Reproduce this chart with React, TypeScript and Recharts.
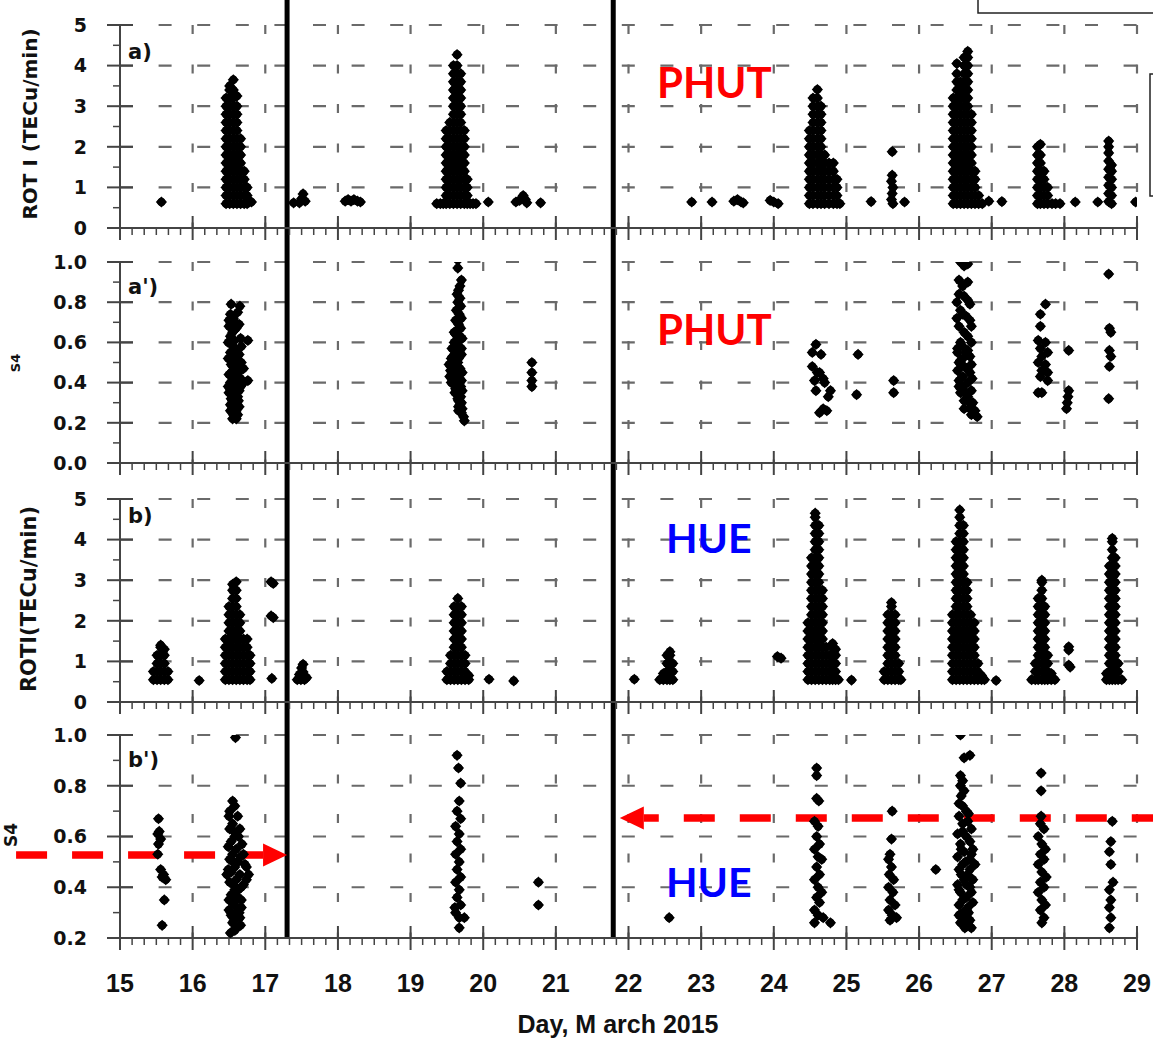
import React from "react";
import { ScatterChart, Scatter, XAxis, YAxis, CartesianGrid, ReferenceLine } from "recharts";

type Strand = [number, number[]];

const W = 1153;
const AXIS = "#444";
const GRID = "#6a6a6a";
const RED = "#ff0000";

// x axis
const days = [15, 16, 17, 18, 19, 20, 21, 22, 23, 24, 25, 26, 27, 28, 29];
const gridDays = [16, 17, 18, 19, 20, 21, 22, 23, 24, 25, 26, 27, 28, 29];
const xTicks = [...days, ...days.slice(0, -1).flatMap(d => [1, 2, 3, 4, 5].map(j => d + j / 6))].sort((a, b) => a - b);

// y axis ticks
const rotiMajor = [0, 1, 2, 3, 4, 5];
const rotiMinor = [0.5, 1.5, 2.5, 3.5, 4.5];
const s4aMajor = [0, 0.2, 0.4, 0.6, 0.8, 1.0];
const s4aMinor = [0.1, 0.3, 0.5, 0.7, 0.9];
const s4bMajor = [0.2, 0.4, 0.6, 0.8, 1.0];
const s4bMinor = [0.3, 0.5, 0.7, 0.9];

// storm-time markers (thick black lines) and S4 thresholds
const stormDays = [17.3, 21.79];
const s4LimitLeft = 0.527;
const s4LimitRight = 0.673;

// a) ROTI, PHUT
const phutRotiCols: Strand[] = [
  [16.46, [0.6, 0.8, 1.0, 1.2, 1.4, 1.6, 1.8, 2.0, 2.2, 2.4, 2.6, 2.8, 3.0, 3.2]],
  [16.51, [0.6, 0.8, 1.0, 1.2, 1.4, 1.6, 1.8, 2.0, 2.2, 2.4, 2.6, 2.8, 3.0, 3.2, 3.4, 3.5]],
  [16.56, [0.6, 0.8, 1.0, 1.2, 1.4, 1.6, 1.8, 2.0, 2.2, 2.4, 2.6, 2.8, 3.0, 3.2, 3.4, 3.65]],
  [16.61, [0.6, 0.8, 1.0, 1.2, 1.4, 1.6, 1.8, 2.0, 2.2, 2.4, 2.6, 2.8, 3.0, 3.25]],
  [16.66, [0.6, 0.8, 1.0, 1.2, 1.4, 1.6, 1.8, 2.0, 2.2]],
  [16.71, [0.6, 0.8, 1.0, 1.2, 1.4]],
  [16.75, [0.6, 0.8, 1.0]],
  [19.36, [0.6]], [19.41, [0.6]], [19.45, [0.6]],
  [19.49, [0.6, 0.8, 1.0, 1.2, 1.4, 1.6, 1.8, 2.0, 2.2, 2.4]],
  [19.54, [0.6, 0.8, 1.0, 1.2, 1.4, 1.6, 1.8, 2.0, 2.2, 2.4, 2.6]],
  [19.59, [0.6, 0.8, 1.0, 1.2, 1.4, 1.6, 1.8, 2.0, 2.2, 2.4, 2.6, 2.8, 3.0, 3.2, 3.4, 3.6, 3.8, 4.0]],
  [19.64, [0.6, 0.8, 1.0, 1.2, 1.4, 1.6, 1.8, 2.0, 2.2, 2.4, 2.6, 2.8, 3.0, 3.2, 3.4, 3.6, 3.8, 4.0, 4.27]],
  [19.69, [0.6, 0.8, 1.0, 1.2, 1.4, 1.6, 1.8, 2.0, 2.2, 2.4, 2.6, 2.8, 3.0, 3.2, 3.4, 3.6, 3.8]],
  [19.74, [0.6, 0.8, 1.0, 1.2, 1.4, 1.6, 1.8, 2.0, 2.2, 2.4]],
  [19.78, [0.6, 0.8, 1.0, 1.2]],
  [19.82, [0.6]], [19.86, [0.6]], [19.9, [0.6]],
  [24.49, [0.6, 0.8, 1.0, 1.2, 1.4, 1.6, 1.8, 2.0, 2.2, 2.4]],
  [24.54, [0.6, 0.8, 1.0, 1.2, 1.4, 1.6, 1.8, 2.0, 2.2, 2.4, 2.6, 2.8, 3.0, 3.2]],
  [24.6, [0.6, 0.8, 1.0, 1.2, 1.4, 1.6, 1.8, 2.0, 2.2, 2.4, 2.6, 2.8, 3.0, 3.2, 3.41]],
  [24.65, [0.6, 0.8, 1.0, 1.2, 1.4, 1.6, 1.8, 2.0, 2.2, 2.4, 2.6, 2.8, 3.0]],
  [24.7, [0.6, 0.8, 1.0, 1.2, 1.4, 1.6, 1.8]],
  [24.76, [0.6, 0.8, 1.0, 1.2, 1.4, 1.6]],
  [24.82, [0.6, 0.8, 1.0, 1.2, 1.4, 1.6]],
  [24.87, [0.6, 0.8, 1.0, 1.2]],
  [24.91, [0.6]],
  [26.47, [0.6, 0.8, 1.0, 1.2, 1.4, 1.6, 1.8, 2.0, 2.2, 2.4, 2.6, 2.8, 3.0, 3.2]],
  [26.52, [0.6, 0.8, 1.0, 1.2, 1.4, 1.6, 1.8, 2.0, 2.2, 2.4, 2.6, 2.8, 3.0, 3.2, 3.4, 3.6, 3.8, 4.05]],
  [26.57, [0.6, 0.8, 1.0, 1.2, 1.4, 1.6, 1.8, 2.0, 2.2, 2.4, 2.6, 2.8, 3.0, 3.2, 3.4, 3.6]],
  [26.62, [0.6, 0.8, 1.0, 1.2, 1.4, 1.6, 1.8, 2.0, 2.2, 2.4, 2.6, 2.8, 3.0, 3.2, 3.4, 3.6, 3.8, 4.0, 4.2]],
  [26.67, [0.6, 0.8, 1.0, 1.2, 1.4, 1.6, 1.8, 2.0, 2.2, 2.4, 2.6, 2.8, 3.0, 3.2, 3.4, 3.6, 3.8, 4.0, 4.2, 4.35]],
  [26.72, [0.6, 0.8, 1.0, 1.2, 1.4, 1.6, 1.8, 2.0, 2.2, 2.4, 2.6, 2.8]],
  [26.77, [0.6, 0.8, 1.0, 1.2, 1.4]],
  [26.82, [0.6, 0.8]],
  [26.87, [0.6]],
  [27.63, [0.6, 0.8, 1.0, 1.2, 1.4, 1.6, 1.8, 2.0]],
  [27.67, [0.6, 0.8, 1.0, 1.2, 1.4, 1.6, 1.8, 2.06]],
  [27.72, [0.6, 0.8, 1.0, 1.2, 1.4]],
  [27.77, [0.6, 0.8, 1.0]],
  [27.83, [0.6]], [27.88, [0.6]], [27.94, [0.6]],
  [28.61, [0.65, 0.85, 1.05, 1.25, 1.45, 1.65, 1.85, 2.0, 2.14]],
  [28.65, [0.6, 0.8, 1.0, 1.2, 1.4, 1.55]],
];
const phutRotiPts = [
  [15.57, 0.64], [16.81, 0.64], [17.39, 0.62], [17.47, 0.62], [17.5, 0.72], [17.52, 0.84], [17.55, 0.66],
  [18.1, 0.66], [18.14, 0.7], [18.18, 0.66], [18.22, 0.7], [18.27, 0.66], [18.31, 0.64],
  [20.07, 0.64], [20.45, 0.64], [20.5, 0.68], [20.55, 0.8], [20.58, 0.7], [20.6, 0.62], [20.79, 0.62],
  [22.87, 0.64], [23.15, 0.64], [23.45, 0.66], [23.5, 0.7], [23.55, 0.64], [23.58, 0.62],
  [23.95, 0.68], [24.0, 0.64], [24.06, 0.6], [25.34, 0.65],
  [25.63, 1.88], [25.63, 1.3], [25.62, 1.15], [25.64, 1.0], [25.63, 0.85], [25.62, 0.7], [25.64, 0.6], [25.8, 0.64],
  [26.96, 0.66], [27.14, 0.65], [28.15, 0.64], [28.46, 0.64], [28.98, 0.64],
];

// a') S4, PHUT
const phutS4Pts = [
  [16.53, 0.79], [16.65, 0.78], [16.52, 0.74], [16.62, 0.75], [16.56, 0.72], [16.5, 0.71], [16.58, 0.7], [16.64, 0.69],
  [16.5, 0.68], [16.6, 0.67], [16.55, 0.65], [16.52, 0.63], [16.66, 0.62], [16.57, 0.61], [16.76, 0.61], [16.67, 0.58],
  [16.49, 0.6], [16.56, 0.58], [16.61, 0.56], [16.52, 0.55], [16.64, 0.54], [16.6, 0.53], [16.49, 0.52], [16.58, 0.51],
  [16.67, 0.5], [16.53, 0.49], [16.6, 0.48], [16.7, 0.47], [16.55, 0.46], [16.63, 0.45], [16.5, 0.44], [16.58, 0.43],
  [16.55, 0.43], [16.66, 0.42], [16.62, 0.41], [16.76, 0.41], [16.7, 0.4], [16.52, 0.4], [16.6, 0.39], [16.49, 0.38],
  [16.66, 0.38], [16.55, 0.37], [16.64, 0.36], [16.5, 0.35], [16.6, 0.35], [16.58, 0.34], [16.62, 0.33], [16.53, 0.32],
  [16.55, 0.31], [16.63, 0.31], [16.6, 0.3], [16.52, 0.29], [16.58, 0.29], [16.64, 0.28], [16.57, 0.27], [16.6, 0.26],
  [16.52, 0.26], [16.56, 0.24], [16.62, 0.24], [16.55, 0.22], [16.6, 0.22],
  [19.65, 1.01], [19.65, 0.97], [19.7, 0.91], [19.68, 0.88], [19.66, 0.86], [19.64, 0.84], [19.68, 0.82], [19.65, 0.8],
  [19.69, 0.78], [19.63, 0.76], [19.67, 0.74], [19.7, 0.72], [19.62, 0.71], [19.66, 0.69], [19.69, 0.67], [19.64, 0.66],
  [19.6, 0.65], [19.62, 0.64], [19.68, 0.63], [19.71, 0.62], [19.66, 0.61], [19.6, 0.6], [19.64, 0.58], [19.57, 0.57],
  [19.7, 0.57], [19.62, 0.55], [19.7, 0.54], [19.58, 0.53], [19.56, 0.52], [19.66, 0.52], [19.6, 0.5], [19.65, 0.5],
  [19.53, 0.49], [19.64, 0.48], [19.68, 0.47], [19.55, 0.46], [19.62, 0.45], [19.71, 0.45], [19.54, 0.43], [19.6, 0.43],
  [19.66, 0.42], [19.58, 0.41], [19.7, 0.41], [19.56, 0.4], [19.64, 0.4], [19.62, 0.39], [19.69, 0.38], [19.62, 0.37],
  [19.66, 0.36], [19.71, 0.36], [19.61, 0.35], [19.64, 0.34], [19.69, 0.33], [19.65, 0.32], [19.66, 0.31], [19.7, 0.3],
  [19.68, 0.29], [19.66, 0.28], [19.71, 0.27], [19.66, 0.26], [19.7, 0.25], [19.73, 0.23], [19.74, 0.21],
  [20.67, 0.5], [20.67, 0.45], [20.67, 0.41], [20.67, 0.38],
  [24.58, 0.59], [24.53, 0.55], [24.65, 0.54], [24.53, 0.48], [24.6, 0.45], [24.63, 0.45], [24.56, 0.41], [24.68, 0.42],
  [24.7, 0.4], [24.58, 0.36], [24.78, 0.36], [24.75, 0.33], [24.68, 0.27], [24.73, 0.26], [24.63, 0.25],
  [25.16, 0.54], [25.14, 0.34], [25.65, 0.41], [25.65, 0.35],
  [26.57, 1.0], [26.67, 0.99], [26.62, 0.98], [26.55, 0.91], [26.67, 0.9], [26.6, 0.88], [26.55, 0.84], [26.62, 0.83],
  [26.67, 0.81], [26.52, 0.8], [26.7, 0.79], [26.57, 0.76], [26.6, 0.74], [26.65, 0.73], [26.52, 0.72], [26.7, 0.71],
  [26.55, 0.68], [26.72, 0.68], [26.62, 0.65], [26.67, 0.63], [26.57, 0.6], [26.72, 0.6], [26.6, 0.58], [26.53, 0.57],
  [26.67, 0.56], [26.65, 0.55], [26.53, 0.55], [26.7, 0.53], [26.6, 0.52], [26.57, 0.51], [26.55, 0.5], [26.72, 0.49],
  [26.62, 0.48], [26.66, 0.47], [26.53, 0.46], [26.7, 0.45], [26.6, 0.43], [26.73, 0.42], [26.55, 0.41], [26.67, 0.4],
  [26.55, 0.38], [26.6, 0.38], [26.72, 0.36], [26.57, 0.35], [26.65, 0.35], [26.67, 0.33], [26.62, 0.31], [26.74, 0.3],
  [26.7, 0.3], [26.7, 0.27], [26.62, 0.27], [26.77, 0.26], [26.72, 0.24], [26.8, 0.23],
  [27.74, 0.79], [27.67, 0.74], [27.67, 0.68], [27.64, 0.61], [27.74, 0.6], [27.67, 0.57], [27.77, 0.55], [27.69, 0.53],
  [27.64, 0.5], [27.74, 0.49], [27.69, 0.46], [27.77, 0.45], [27.67, 0.43], [27.77, 0.41], [27.69, 0.35], [27.64, 0.35],
  [28.06, 0.56], [28.06, 0.36], [28.05, 0.33], [28.04, 0.3], [28.03, 0.27],
  [28.61, 0.94], [28.62, 0.67], [28.64, 0.65], [28.62, 0.56], [28.64, 0.53], [28.62, 0.48], [28.61, 0.32],
];

// b) ROTI, HUE
const hueRotiCols: Strand[] = [
  [15.46, [0.55, 0.75]],
  [15.51, [0.55, 0.75, 0.95, 1.15]],
  [15.56, [0.55, 0.75, 0.95, 1.15, 1.35, 1.4]],
  [15.61, [0.55, 0.75, 0.95, 1.15, 1.3]],
  [15.66, [0.55, 0.75]],
  [16.45, [0.55, 0.75, 0.95, 1.15, 1.35, 1.55]],
  [16.5, [0.55, 0.75, 0.95, 1.15, 1.35, 1.55, 1.75, 1.95, 2.15, 2.35]],
  [16.55, [0.55, 0.75, 0.95, 1.15, 1.35, 1.55, 1.75, 1.95, 2.15, 2.35, 2.55, 2.75, 2.9]],
  [16.6, [0.55, 0.75, 0.95, 1.15, 1.35, 1.55, 1.75, 1.95, 2.15, 2.35, 2.55, 2.75, 2.96]],
  [16.65, [0.55, 0.75, 0.95, 1.15, 1.35, 1.55, 1.75, 1.95, 2.15]],
  [16.7, [0.55, 0.75, 0.95, 1.15, 1.35, 1.55]],
  [16.75, [0.55, 0.75, 0.95, 1.15, 1.35, 1.55]],
  [16.79, [0.55, 0.75, 0.95, 1.15]],
  [19.5, [0.55, 0.75]],
  [19.55, [0.55, 0.75, 0.95, 1.15]],
  [19.6, [0.55, 0.75, 0.95, 1.15, 1.35, 1.55, 1.75, 1.95, 2.15, 2.35]],
  [19.65, [0.55, 0.75, 0.95, 1.15, 1.35, 1.55, 1.75, 1.95, 2.15, 2.35, 2.55]],
  [19.7, [0.55, 0.75, 0.95, 1.15, 1.35, 1.55, 1.75, 1.95, 2.15, 2.35]],
  [19.75, [0.55, 0.75, 0.95, 1.15]],
  [19.8, [0.55, 0.65]],
  [22.43, [0.55]],
  [22.48, [0.55, 0.7]],
  [22.53, [0.55, 0.75, 0.95, 1.15]],
  [22.57, [0.55, 0.75, 0.95, 1.15, 1.24]],
  [22.61, [0.55, 0.75, 0.95]],
  [24.47, [0.55, 0.75, 0.95, 1.15, 1.35, 1.55, 1.75, 1.95]],
  [24.52, [0.55, 0.75, 0.95, 1.15, 1.35, 1.55, 1.75, 1.95, 2.15, 2.35, 2.55, 2.75, 2.95, 3.15, 3.35, 3.55]],
  [24.57, [0.55, 0.75, 0.95, 1.15, 1.35, 1.55, 1.75, 1.95, 2.15, 2.35, 2.55, 2.75, 2.95, 3.15, 3.35, 3.55, 3.75, 3.95, 4.15, 4.35, 4.55, 4.65]],
  [24.62, [0.55, 0.75, 0.95, 1.15, 1.35, 1.55, 1.75, 1.95, 2.15, 2.35, 2.55, 2.75, 2.95, 3.15, 3.35, 3.55, 3.75, 3.95, 4.15, 4.35]],
  [24.67, [0.55, 0.75, 0.95, 1.15, 1.35, 1.55, 1.75, 1.95, 2.15, 2.35, 2.55, 2.75]],
  [24.72, [0.55, 0.75, 0.95, 1.15, 1.35]],
  [24.77, [0.55, 0.75, 0.95, 1.15]],
  [24.81, [0.55, 0.75, 0.95, 1.15, 1.35, 1.44]],
  [24.85, [0.55, 0.75, 0.95, 1.15, 1.3]],
  [24.89, [0.55]],
  [25.52, [0.55, 0.75]],
  [25.57, [0.55, 0.75, 0.95, 1.15, 1.35, 1.55, 1.75, 1.95, 2.15]],
  [25.62, [0.55, 0.75, 0.95, 1.15, 1.35, 1.55, 1.75, 1.95, 2.15, 2.35, 2.45]],
  [25.67, [0.55, 0.75, 0.95, 1.15, 1.35, 1.55, 1.75, 1.95, 2.15]],
  [25.72, [0.55, 0.75, 0.95]],
  [25.75, [0.55]],
  [26.46, [0.55, 0.75, 0.95, 1.15, 1.35, 1.55, 1.75, 1.95, 2.15]],
  [26.51, [0.55, 0.75, 0.95, 1.15, 1.35, 1.55, 1.75, 1.95, 2.15, 2.35, 2.55, 2.75, 2.95, 3.15, 3.35, 3.55, 3.75, 3.95]],
  [26.56, [0.55, 0.75, 0.95, 1.15, 1.35, 1.55, 1.75, 1.95, 2.15, 2.35, 2.55, 2.75, 2.95, 3.15, 3.35, 3.55, 3.75, 3.95, 4.15, 4.35, 4.55, 4.73]],
  [26.61, [0.55, 0.75, 0.95, 1.15, 1.35, 1.55, 1.75, 1.95, 2.15, 2.35, 2.55, 2.75, 2.95, 3.15, 3.35, 3.55, 3.75, 3.95, 4.15, 4.35]],
  [26.66, [0.55, 0.75, 0.95, 1.15, 1.35, 1.55, 1.75, 1.95, 2.15, 2.35, 2.55, 2.75, 2.95]],
  [26.71, [0.55, 0.75, 0.95, 1.15, 1.35, 1.55, 1.75, 1.95, 2.15]],
  [26.76, [0.55, 0.75, 0.95, 1.15, 1.35, 1.55, 1.75, 1.95]],
  [26.81, [0.55, 0.75, 0.95]],
  [26.86, [0.55, 0.65]],
  [26.9, [0.55]],
  [27.55, [0.55]],
  [27.6, [0.55, 0.75, 0.95]],
  [27.64, [0.55, 0.75, 0.95, 1.15, 1.35, 1.55, 1.75, 1.95, 2.15, 2.35, 2.55]],
  [27.69, [0.55, 0.75, 0.95, 1.15, 1.35, 1.55, 1.75, 1.95, 2.15, 2.35, 2.55, 2.75, 2.95, 3.0]],
  [27.73, [0.55, 0.75, 0.95, 1.15, 1.35, 1.55, 1.75, 1.95, 2.15, 2.35]],
  [27.77, [0.55, 0.75, 0.95, 1.15]],
  [27.82, [0.55, 0.7]],
  [27.87, [0.55]],
  [28.58, [0.55, 0.7]],
  [28.62, [0.55, 0.75, 0.95, 1.15, 1.35, 1.55, 1.75, 1.95, 2.15, 2.35, 2.55, 2.75, 2.95, 3.15, 3.35]],
  [28.66, [0.55, 0.75, 0.95, 1.15, 1.35, 1.55, 1.75, 1.95, 2.15, 2.35, 2.55, 2.75, 2.95, 3.15, 3.35, 3.55, 3.75, 3.95, 4.03]],
  [28.7, [0.55, 0.75, 0.95, 1.15, 1.35, 1.55, 1.75, 1.95, 2.15, 2.35, 2.55, 2.75, 2.95, 3.15, 3.35, 3.55]],
  [28.74, [0.55, 0.75, 0.95]],
  [28.79, [0.55]],
];
const hueRotiPts = [
  [16.09, 0.53], [17.08, 2.96], [17.11, 2.92], [17.08, 2.12], [17.11, 2.08], [17.09, 0.58],
  [17.44, 0.55], [17.49, 0.55], [17.54, 0.55], [17.47, 0.68], [17.52, 0.74], [17.5, 0.84], [17.52, 0.93], [17.57, 0.6],
  [20.08, 0.56], [20.42, 0.52], [22.08, 0.56], [24.05, 1.12], [24.1, 1.08], [25.07, 0.54], [27.06, 0.53],
  [28.06, 1.36], [28.06, 1.28], [28.06, 0.91], [28.08, 0.86],
];

// b') S4, HUE
const hueS4Pts = [
  [15.53, 0.67], [15.52, 0.61], [15.54, 0.62], [15.56, 0.59], [15.53, 0.57], [15.52, 0.53], [15.56, 0.47], [15.58, 0.44],
  [15.6, 0.45], [15.63, 0.43], [15.61, 0.35], [15.58, 0.25],
  [16.59, 0.99],
  [16.55, 0.74], [16.58, 0.72], [16.51, 0.7], [16.5, 0.68], [16.62, 0.68], [16.55, 0.65], [16.51, 0.63], [16.65, 0.63],
  [16.57, 0.62], [16.58, 0.6], [16.63, 0.6], [16.53, 0.58], [16.68, 0.57], [16.49, 0.56], [16.6, 0.55], [16.55, 0.53],
  [16.7, 0.53], [16.66, 0.52], [16.51, 0.51], [16.62, 0.5], [16.56, 0.5], [16.72, 0.49], [16.58, 0.48], [16.74, 0.48],
  [16.49, 0.47], [16.53, 0.46], [16.47, 0.45], [16.65, 0.45], [16.77, 0.45], [16.6, 0.43], [16.74, 0.43], [16.51, 0.42],
  [16.7, 0.41], [16.56, 0.41], [16.67, 0.4], [16.58, 0.39], [16.63, 0.39], [16.53, 0.37], [16.62, 0.36], [16.5, 0.35],
  [16.67, 0.35], [16.55, 0.34], [16.58, 0.33], [16.67, 0.32], [16.5, 0.31], [16.6, 0.3], [16.64, 0.3], [16.53, 0.29],
  [16.65, 0.28], [16.57, 0.27], [16.55, 0.26], [16.66, 0.25], [16.6, 0.24], [16.58, 0.23], [16.52, 0.22],
  [19.64, 0.92], [19.66, 0.87], [19.69, 0.81], [19.67, 0.74], [19.64, 0.7], [19.69, 0.67], [19.62, 0.64], [19.67, 0.61],
  [19.64, 0.58], [19.69, 0.55], [19.62, 0.53], [19.67, 0.5], [19.64, 0.47], [19.69, 0.44], [19.62, 0.42], [19.67, 0.39],
  [19.64, 0.36], [19.69, 0.33], [19.61, 0.32], [19.62, 0.3], [19.67, 0.28], [19.74, 0.28], [19.67, 0.24],
  [20.76, 0.42], [20.76, 0.33],
  [22.56, 0.28],
  [24.59, 0.87], [24.59, 0.84], [24.59, 0.75], [24.62, 0.74], [24.56, 0.66], [24.61, 0.64], [24.59, 0.6], [24.63, 0.57],
  [24.56, 0.55], [24.61, 0.52], [24.66, 0.51], [24.59, 0.48], [24.63, 0.45], [24.56, 0.43], [24.61, 0.4], [24.66, 0.38],
  [24.59, 0.36], [24.63, 0.34], [24.56, 0.31], [24.61, 0.29], [24.68, 0.28], [24.56, 0.26], [24.78, 0.26],
  [25.63, 0.7], [25.62, 0.59], [25.6, 0.53], [25.58, 0.51], [25.62, 0.48], [25.59, 0.45], [25.65, 0.43], [25.58, 0.4],
  [25.64, 0.38], [25.6, 0.35], [25.67, 0.33], [25.58, 0.31], [25.63, 0.29], [25.69, 0.28], [25.6, 0.27],
  [26.23, 0.47],
  [26.57, 1.0], [26.62, 0.91], [26.7, 0.92], [26.57, 0.84], [26.6, 0.82], [26.57, 0.8], [26.62, 0.78], [26.58, 0.76],
  [26.55, 0.73], [26.6, 0.72], [26.65, 0.7], [26.68, 0.69], [26.55, 0.68], [26.67, 0.66], [26.6, 0.65], [26.72, 0.63],
  [26.6, 0.62], [26.53, 0.61], [26.65, 0.6], [26.7, 0.58], [26.57, 0.57], [26.58, 0.55], [26.74, 0.55], [26.62, 0.54],
  [26.72, 0.53], [26.53, 0.52], [26.7, 0.51], [26.64, 0.5], [26.6, 0.49], [26.77, 0.49], [26.55, 0.47], [26.7, 0.47],
  [26.67, 0.45], [26.58, 0.45], [26.62, 0.43], [26.74, 0.43], [26.53, 0.41], [26.65, 0.41], [26.7, 0.4], [26.55, 0.39],
  [26.57, 0.38], [26.72, 0.38], [26.65, 0.36], [26.6, 0.35], [26.74, 0.34], [26.55, 0.33], [26.67, 0.32], [26.6, 0.3],
  [26.68, 0.3], [26.55, 0.29], [26.62, 0.28], [26.7, 0.27], [26.57, 0.26], [26.67, 0.26], [26.63, 0.24], [26.72, 0.24],
  [27.68, 0.85], [27.68, 0.78], [27.68, 0.68], [27.67, 0.65], [27.72, 0.63], [27.64, 0.6], [27.69, 0.57], [27.74, 0.55],
  [27.67, 0.53], [27.72, 0.51], [27.64, 0.49], [27.69, 0.46], [27.75, 0.44], [27.67, 0.42], [27.72, 0.4], [27.64, 0.38],
  [27.69, 0.35], [27.74, 0.33], [27.67, 0.31], [27.72, 0.28], [27.69, 0.26],
  [28.66, 0.66], [28.64, 0.58], [28.62, 0.54], [28.64, 0.49], [28.67, 0.42], [28.62, 0.39], [28.64, 0.35], [28.62, 0.32],
  [28.64, 0.28], [28.62, 0.24],
];

const strandPts = (cols: Strand[]) => cols.flatMap(([x, ys]) => ys.map(y => ({ x, y })));
const pairPts = (arr: number[][]) => arr.map(([x, y]) => ({ x, y }));

const dot = (p: any) => (
  <g>
    <circle cx={p.cx} cy={p.cy} r={4.3} fill="#000" />
    <polygon points={`${p.cx},${p.cy - 5.6} ${p.cx + 5.6},${p.cy} ${p.cx},${p.cy + 5.6} ${p.cx - 5.6},${p.cy}`} fill="#000" />
  </g>
);

const isIn = (list: number[], v: number) => list.some(m => Math.abs(m - v) < 1e-6);

const vLine = (p: any) => (
  <line key={p.key ?? `v${p.x1}`} x1={p.x1} y1={p.y1} x2={p.x2} y2={p.y2} stroke={GRID} strokeWidth={2.2} strokeDasharray="9 30.5" />
);

const makeXTick = (labels: boolean) => (p: any) => {
  const v = Number(p.payload.value);
  const major = isIn(days, v);
  return (
    <g>
      {major ? (
        <line x1={p.x} x2={p.x} y1={p.y - 12} y2={p.y + 12} stroke={AXIS} strokeWidth={2} />
      ) : (
        <line x1={p.x} x2={p.x} y1={p.y} y2={p.y + 7} stroke={AXIS} strokeWidth={1.5} />
      )}
      {labels && major && (
        <text x={p.x} y={p.y + 54} textAnchor="middle" fontFamily="Liberation Sans, Arial" fontWeight="bold" fontSize={25} fill="#111">
          {v}
        </text>
      )}
    </g>
  );
};

const makeYTick = (majors: number[], digits: number) => (p: any) => {
  const v = Number(p.payload.value);
  const major = isIn(majors, v);
  return (
    <g>
      <line x1={major ? p.x - 13 : p.x - 7} x2={major ? p.x + 13 : p.x} y1={p.y} y2={p.y} stroke={AXIS} strokeWidth={major ? 2 : 1.5} />
      {major && (
        <text x={p.x - 33} y={p.y} dy="0.36em" textAnchor="end" fontFamily="DejaVu Sans" fontWeight="bold" fontSize={19} fill="#111">
          {v.toFixed(digits)}
        </text>
      )}
    </g>
  );
};

const arrowShape = (pointRight: boolean, offset: number) => (p: any) => {
  const y = p.y1;
  const tip = pointRight ? Math.max(p.x1, p.x2) : Math.min(p.x1, p.x2);
  const tail = pointRight ? Math.min(p.x1, p.x2) : Math.max(p.x1, p.x2);
  const base = pointRight ? tip - 24 : tip + 24;
  return (
    <g>
      <line x1={base} y1={y} x2={tail} y2={y} stroke={RED} strokeWidth={7.5} strokeDasharray="31 25" strokeDashoffset={offset} />
      <polygon points={`${tip},${y} ${base},${y - 11.5} ${base},${y + 11.5}`} fill={RED} />
    </g>
  );
};

const gridShape = (p: any) => {
  const xa = Math.min(p.x1, p.x2);
  const xb = Math.max(p.x1, p.x2);
  return <line x1={xa} y1={p.y1} x2={xb} y2={p.y2} stroke={GRID} strokeWidth={2.2} strokeDasharray="13 25.6" />;
};

type PanelCfg = {
  top: number;
  height: number;
  mTop: number;
  xH: number;
  domain: [number, number];
  majors: number[];
  minors: number[];
  digits: number;
  grid: number[];
  lineLo: number;
  lineHi: number;
  labels: boolean;
  data: { x: number; y: number }[];
  arrows?: boolean;
};

function Panel({ cfg }: { cfg: PanelCfg }) {
  const yTicks = [...cfg.majors, ...cfg.minors].sort((a, b) => a - b);
  return (
    <div style={{ position: "absolute", left: 0, top: cfg.top }}>
      <ScatterChart width={W} height={cfg.height} margin={{ top: cfg.mTop, right: 16, bottom: 0, left: 0 }}>
        <CartesianGrid horizontal={false} verticalValues={gridDays} vertical={vLine} />
        <XAxis
          type="number"
          dataKey="x"
          domain={[15, 29]}
          allowDataOverflow
          ticks={xTicks}
          interval={0}
          tickSize={0}
          tickMargin={0}
          tickLine={false}
          height={cfg.xH}
          axisLine={{ stroke: AXIS, strokeWidth: 2 }}
          tick={makeXTick(cfg.labels)}
        />
        <YAxis
          type="number"
          dataKey="y"
          domain={cfg.domain}
          allowDataOverflow
          ticks={yTicks}
          interval={0}
          width={120}
          tickSize={0}
          tickMargin={0}
          tickLine={false}
          axisLine={{ stroke: AXIS, strokeWidth: 2 }}
          tick={makeYTick(cfg.majors, cfg.digits)}
        />
        {cfg.grid.map(v => (
          <ReferenceLine
            key={`g${v}`}
            segment={[{ x: 15, y: v }, { x: 29, y: v }]}
            ifOverflow="visible"
            shape={gridShape}
          />
        ))}
        <Scatter data={cfg.data} shape={dot} isAnimationActive={false} />
        {stormDays.map(d => (
          <ReferenceLine
            key={d}
            segment={[{ x: d, y: cfg.lineLo }, { x: d, y: cfg.lineHi }]}
            stroke="#000"
            strokeWidth={5}
            ifOverflow="visible"
          />
        ))}
        {cfg.arrows && (
          <ReferenceLine
            segment={[{ x: 13.55, y: s4LimitLeft }, { x: stormDays[0], y: s4LimitLeft }]}
            ifOverflow="visible"
            shape={arrowShape(true, 8)}
          />
        )}
        {cfg.arrows && (
          <ReferenceLine
            segment={[{ x: 29.4, y: s4LimitRight }, { x: 21.88, y: s4LimitRight }]}
            ifOverflow="visible"
            shape={arrowShape(false, 16)}
          />
        )}
      </ScatterChart>
    </div>
  );
}

const panels: PanelCfg[] = [
  {
    top: 0, height: 245, mTop: 25, xH: 17, domain: [0, 5], majors: rotiMajor, minors: rotiMinor, digits: 0,
    grid: [1, 2, 3, 4, 5], lineLo: -0.42, lineHi: 5.62, labels: false,
    data: [...strandPts(phutRotiCols), ...pairPts(phutRotiPts)],
  },
  {
    top: 245, height: 237, mTop: 17, xH: 19, domain: [0, 1], majors: s4aMajor, minors: s4aMinor, digits: 1,
    grid: [0.2, 0.4, 0.6, 0.8, 1.0], lineLo: -0.095, lineHi: 1.085, labels: false,
    data: pairPts(phutS4Pts),
  },
  {
    top: 482, height: 237, mTop: 17, xH: 17, domain: [0, 5], majors: rotiMajor, minors: rotiMinor, digits: 0,
    grid: [1, 2, 3, 4, 5], lineLo: -0.42, lineHi: 5.42, labels: false,
    data: [...strandPts(hueRotiCols), ...pairPts(hueRotiPts)],
  },
  {
    top: 719, height: 323, mTop: 16, xH: 104, domain: [0.2, 1.0], majors: s4bMajor, minors: s4bMinor, digits: 1,
    grid: [0.4, 0.6, 0.8, 1.0], lineLo: 0.2, lineHi: 1.063, labels: true,
    data: pairPts(hueS4Pts), arrows: true,
  },
];

const titleFont = { fontFamily: "DejaVu Sans", fontWeight: "bold" as const, fill: "#111" };

export default function App() {
  return (
    <div style={{ position: "absolute", left: 0, top: 0, width: W, height: 1042, background: "#fff", overflow: "hidden" }}>
      {panels.map((cfg, i) => (
        <Panel key={i} cfg={cfg} />
      ))}
      <svg width={W} height={1042} style={{ position: "absolute", left: 0, top: 0, pointerEvents: "none" }}>
        <text x={30} y={124} transform="rotate(-90 30 124)" textAnchor="middle" dominantBaseline="central" fontSize={20} {...titleFont}>
          ROT I (TECu/min)
        </text>
        <text x={15} y={363} transform="rotate(-90 15 363)" textAnchor="middle" dominantBaseline="central" fontSize={13} {...titleFont}>
          S4
        </text>
        <text x={29} y={599} transform="rotate(-90 29 599)" textAnchor="middle" dominantBaseline="central" fontSize={21} {...titleFont}>
          ROTI(TECu/min)
        </text>
        <text x={11} y={835} transform="rotate(-90 11 835)" textAnchor="middle" dominantBaseline="central" fontSize={17} {...titleFont}>
          S4
        </text>
        <text x={128} y={59} fontSize={21} {...titleFont}>a)</text>
        <text x={128} y={294} fontSize={21} {...titleFont}>a')</text>
        <text x={128} y={523} fontSize={21} {...titleFont}>b)</text>
        <text x={128} y={767} fontSize={21} {...titleFont}>b')</text>
        <text x={657} y={98} fontFamily="Lato" fontWeight="bold" fontSize={42} fill={RED}>PHUT</text>
        <text x={657} y={345} fontFamily="Lato" fontWeight="bold" fontSize={42} fill={RED}>PHUT</text>
        <text x={666} y={553} fontFamily="Lato" fontWeight="bold" fontSize={41} fill="#0000ff">HUE</text>
        <text x={666} y={897} fontFamily="Lato" fontWeight="bold" fontSize={41} fill="#0000ff">HUE</text>
        <text x={618} y={1033} textAnchor="middle" fontFamily="Liberation Sans, Arial" fontWeight="bold" fontSize={25} fill="#111">
          Day, M arch 2015
        </text>
        <rect x={978} y={-4} width={190} height={17} fill="none" stroke="#222" strokeWidth={1.5} />
        <rect x={1150} y={74} width={20} height={122} fill="none" stroke="#222" strokeWidth={1.5} />
      </svg>
    </div>
  );
}
